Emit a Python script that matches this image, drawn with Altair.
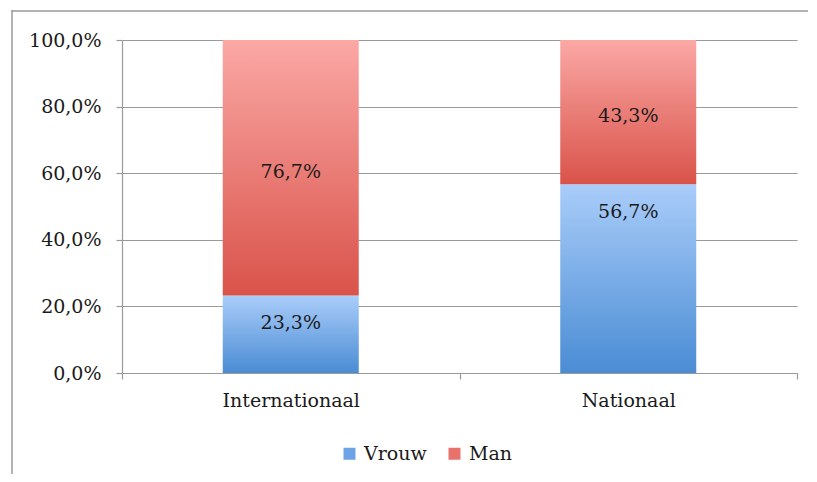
import altair as alt
import pandas as pd

# data
categories = ["Internationaal", "Internationaal", "Nationaal", "Nationaal"]
series = ["Vrouw", "Man", "Vrouw", "Man"]
values = [0.233, 0.767, 0.567, 0.433]
order = [0, 1, 0, 1]
y_ticks = [0.0, 0.2, 0.4, 0.6, 0.8, 1.0]
legend_domain = ["Vrouw", "Man"]
legend_colors = ["#6ea4e6", "#e9736c"]

df = pd.DataFrame({"cat": categories, "serie": series, "value": values, "order": order})

FONT = "DejaVu Serif"
FS = 19
GRAY = "#9a9a9a"
TXT = "#1a1a1a"

blue_grad = alt.LinearGradient(
    gradient="linear", x1=0, x2=0, y1=0, y2=1,
    stops=[alt.GradientStop(color="#aacdfa", offset=0),
           alt.GradientStop(color="#4a8cd4", offset=1)])
red_grad = alt.LinearGradient(
    gradient="linear", x1=0, x2=0, y1=0, y2=1,
    stops=[alt.GradientStop(color="#fba8a5", offset=0),
           alt.GradientStop(color="#d9534a", offset=1)])

pct_expr = "replace(format(datum.value, '.1%'), '.', ',')"

x_scale = alt.Scale(paddingInner=0, paddingOuter=0)
y_scale = alt.Scale(domain=[0, 1], nice=False)

x_axis = alt.Axis(title=None, labelAngle=0, tickBand="extent", grid=False,
                  domainColor=GRAY, tickColor=GRAY, tickSize=6, domainWidth=1.2,
                  tickWidth=1.2, labelPadding=12, labelFont=FONT, labelFontSize=FS,
                  labelColor=TXT)
y_axis = alt.Axis(title=None, values=y_ticks, labelExpr=pct_expr, grid=True,
                  gridColor=GRAY, gridWidth=1.2, domainColor=GRAY, domainWidth=1.2,
                  tickColor=GRAY, tickWidth=1.2, tickSize=6, labelPadding=15,
                  labelFont=FONT, labelFontSize=FS, labelColor=TXT)


def X():
    return alt.X("cat:N", scale=x_scale, axis=x_axis, sort=None)


def Y(field):
    return alt.Y(field, scale=y_scale, axis=y_axis)


base = alt.Chart(df).transform_stack(
    stack="value", groupby=["cat"], sort=[alt.SortField("order")], as_=["v0", "v1"]
).transform_calculate(
    mid="(datum.v0 + datum.v1) / 2",
    lbl="replace(format(datum.value, '.1%'), '.', ',')",
)

# chart-area border (top and left edges only; the rest lies outside the window)
one = pd.DataFrame({"k": [0]})
frame_top = alt.Chart(one).mark_rect(fill=GRAY, strokeWidth=0).encode(
    x=alt.value(-110.75), x2=alt.value(686), y=alt.value(-29.75), y2=alt.value(-28.25))
frame_left = alt.Chart(one).mark_rect(fill=GRAY, strokeWidth=0).encode(
    x=alt.value(-110.75), x2=alt.value(-109.25), y=alt.value(-29.75), y2=alt.value(434))

BAR_W = alt.RelativeBandSize(0.403)

bars_v = base.transform_filter("datum.serie == 'Vrouw'").mark_bar(
    fill=blue_grad, width=BAR_W).encode(x=X(), y=Y("v0:Q"), y2="v1:Q")
bars_m = base.transform_filter("datum.serie == 'Man'").mark_bar(
    fill=red_grad, width=BAR_W).encode(x=X(), y=Y("v0:Q"), y2="v1:Q")

lbl_m = base.transform_filter("datum.serie == 'Man'").mark_text(
    font=FONT, fontSize=FS, color=TXT, baseline="middle", dy=4).encode(
    x=X(), y=Y("mid:Q"), text="lbl:N")
lbl_v = base.transform_filter("datum.serie == 'Vrouw'").mark_text(
    font=FONT, fontSize=FS, color=TXT, baseline="middle", dy=28).encode(
    x=X(), y=Y("v1:Q"), text="lbl:N")

legend_layer = base.mark_square(opacity=0, size=1).encode(
    x=X(), y=Y("v1:Q"),
    color=alt.Color("serie:N",
                    scale=alt.Scale(domain=legend_domain, range=legend_colors),
                    legend=alt.Legend(title=None, orient="none", direction="horizontal",
                                      legendX=218, legendY=404, symbolType="square",
                                      symbolSize=144, symbolOpacity=1, symbolStrokeWidth=0,
                                      labelFont=FONT, labelFontSize=FS, labelColor=TXT,
                                      labelOffset=5, columnPadding=18, padding=0)))

chart = alt.layer(frame_top, frame_left, bars_v, bars_m, lbl_m, lbl_v, legend_layer).properties(
    width=675, height=333,
    autosize=alt.AutoSizeParams(type="none"),
    padding={"left": 114, "top": 32, "right": 12, "bottom": 101},
).configure_view(strokeWidth=0)

chart.save("out.html", embed_options={"renderer": "svg", "actions": False})
